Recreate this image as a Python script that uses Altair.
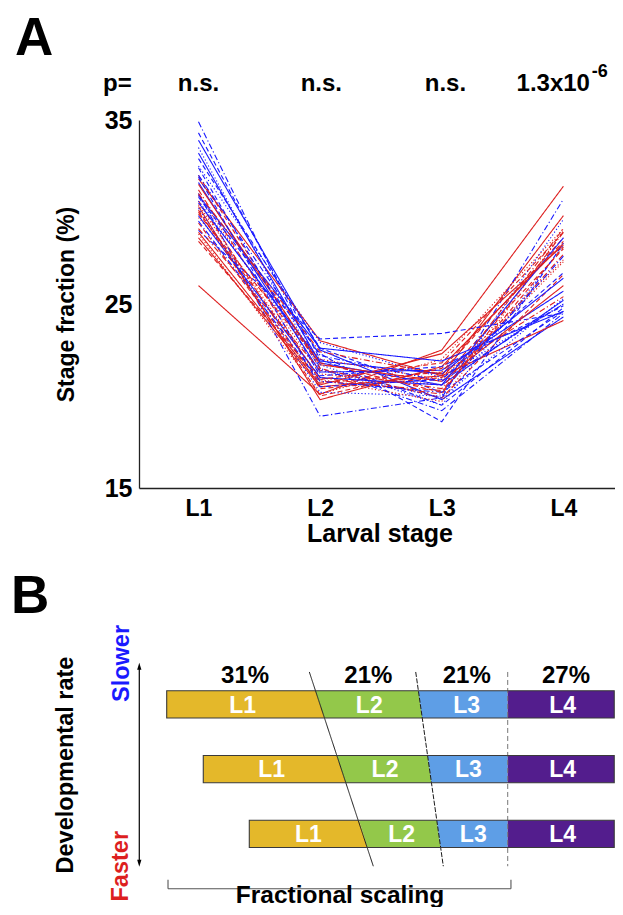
import altair as alt
import pandas as pd

FONT = "Liberation Sans"

# ---------------- Panel A : stage fractions ----------------
stage_labels = ["L1", "L2", "L3", "L4"]
stage_pos = [1, 2, 3, 4]
y_ticks = [15, 25, 35]

# slower strains (blue)
blue_L1 = [33.9, 34.9, 34.3, 33.2, 32.9, 32.5, 31.6, 31.0, 30.8, 30.5, 30.2, 29.0, 29.8, 32.0, 33.5, 31.9, 30.9, 29.5, 30.6, 32.4]
blue_L2 = [22.5, 21.5, 22.0, 21.8, 22.6, 22.9, 21.3, 18.9, 22.3, 21.9, 20.2, 23.1, 21.0, 22.2, 21.4, 20.5, 22.6, 20.8, 21.7, 21.1]
blue_L3 = [19.8, 19.2, 19.5, 20.6, 20.2, 21.0, 21.4, 19.9, 18.6, 21.2, 20.0, 23.4, 20.6, 20.8, 19.9, 20.9, 21.9, 20.2, 19.5, 21.6]
blue_L4 = [24.3, 24.5, 24.8, 25.2, 24.6, 25.0, 25.7, 30.7, 28.3, 26.4, 29.6, 24.5, 28.6, 25.0, 25.3, 26.7, 24.6, 27.6, 28.2, 24.9]
blue_style = ["solid", "dashdot", "dashed", "solid", "dashed", "dotted", "solid", "dashdot", "dashed", "solid",
              "dotted", "dashed", "solid", "dashdot", "dotted", "dashed", "solid", "dashdot", "dotted", "dashed"]

# faster strains (red)
red_L1 = [26.0, 28.6, 31.8, 32.0, 31.2, 30.9, 30.6, 30.3, 30.0, 29.7, 29.4, 31.5, 29.1, 28.8, 28.4, 28.9, 31.0, 30.4, 29.9, 30.1]
red_L2 = [20.1, 20.5, 23.0, 21.5, 20.8, 21.2, 20.4, 19.8, 21.0, 22.0, 20.7, 21.7, 21.4, 20.1, 20.9, 20.6, 22.4, 20.9, 21.8, 20.0]
red_L3 = [22.5, 21.1, 21.1, 19.9, 20.3, 20.6, 21.0, 21.6, 20.1, 20.9, 21.3, 20.8, 20.4, 22.0, 21.8, 22.3, 21.2, 19.7, 20.2, 21.5]
red_L4 = [31.4, 29.8, 24.1, 26.6, 27.7, 27.3, 28.0, 28.3, 28.9, 27.4, 28.6, 26.0, 29.1, 29.1, 28.9, 28.2, 25.4, 29.0, 28.1, 28.4]
red_style = ["solid", "solid", "solid", "dashed", "dashdot", "dotted", "dashed", "solid", "dashdot", "dotted",
             "dashed", "solid", "dashdot", "dotted", "dashed", "solid", "dashdot", "dotted", "dashed", "dashed"]

group_names = ["slower", "faster"]
group_colors = ["#1a1aff", "#dd1f1f"]
dash_names = ["solid", "dashed", "dotted", "dashdot"]
dash_arrays = [[1, 0], [5, 3], [1.2, 2.2], [6, 2.5, 1.2, 2.5]]

pv_text = ["p=", "n.s.", "n.s.", "n.s."]
pv_stage = [0.334, 1.0, 2.01, 3.03]
pv_big_text = ["1.3x10"]
pv_big_stage = [4.218]
pv_exp_text = ["-6"]
pv_exp_stage = [4.232]

rows = []
for i in range(len(blue_L1)):
    for grp, a, b, c, d, st in (("slower", blue_L1, blue_L2, blue_L3, blue_L4, blue_style),
                                 ("faster", red_L1, red_L2, red_L3, red_L4, red_style)):
        for s, v in zip(stage_pos, [a[i], b[i], c[i], d[i]]):
            rows.append({"id": f"{grp}{i:02d}", "group": grp, "style": st[i], "stage": s, "value": v})
dfA = pd.DataFrame(rows)

label_expr = "[" + ",".join(f"'{s}'" for s in stage_labels) + "][datum.value - 1]"

xA_scale = alt.Scale(domain=[0.511, 4.424], nice=False, zero=False)
yA_scale = alt.Scale(domain=[15, 35], nice=False, zero=False)

xA = alt.X("stage:Q", scale=xA_scale,
           axis=alt.Axis(values=stage_pos, labelExpr=label_expr, title="Larval stage",
                         ticks=False, grid=False, labelFlush=False,
                         labelFontSize=23, labelFontWeight="bold", labelPadding=9, labelColor="black",
                         titleFontSize=25, titleFontWeight="bold", titleColor="black",
                         titleY=53, titleX=240.5, titleBaseline="alphabetic",
                         domainColor="#222222", domainWidth=1.3))
yA = alt.Y("value:Q", scale=yA_scale,
           axis=alt.Axis(values=y_ticks, title="Stage fraction (%)", ticks=False, grid=False,
                         labelFontSize=25, labelFontWeight="bold", labelPadding=7, labelColor="black",
                         titleFontSize=23, titleFontWeight="bold", titleColor="black",
                         titleX=-73, titleBaseline="middle",
                         domainColor="#222222", domainWidth=1.3))

linesA = alt.Chart(dfA).mark_line(strokeWidth=1.1).encode(
    x=xA, y=yA,
    color=alt.Color("group:N", scale=alt.Scale(domain=group_names, range=group_colors), legend=None),
    strokeDash=alt.StrokeDash("style:N", scale=alt.Scale(domain=dash_names, range=dash_arrays), legend=None),
    detail="id:N",
)

pv_df = pd.DataFrame({"t": pv_text, "s": pv_stage})
pvA = alt.Chart(pv_df).mark_text(fontSize=24, fontWeight="bold", color="black", baseline="alphabetic",
                                 align="center").encode(
    x=alt.X("s:Q", scale=xA_scale), y=alt.value(-29), text="t:N")
pvbig = alt.Chart(pd.DataFrame({"t": pv_big_text, "s": pv_big_stage})).mark_text(
    fontSize=24, fontWeight="bold", color="black", baseline="alphabetic", align="right").encode(
    x=alt.X("s:Q", scale=xA_scale), y=alt.value(-29), text="t:N")
pvexp = alt.Chart(pd.DataFrame({"t": pv_exp_text, "s": pv_exp_stage})).mark_text(
    fontSize=18, fontWeight="bold", color="black", baseline="alphabetic", align="left").encode(
    x=alt.X("s:Q", scale=xA_scale), y=alt.value(-43), text="t:N")
letterA = alt.Chart(pd.DataFrame({"t": ["A"]})).mark_text(
    fontSize=53, fontWeight="bold", color="black", baseline="alphabetic", align="left").encode(
    x=alt.value(-124), y=alt.value(-65), text="t:N")

panelA = alt.layer(linesA, pvA, pvbig, pvexp, letterA)

# ---------------- Panel B : schematic of fractional scaling ----------------
seg_names = ["L1", "L2", "L3", "L4"]
seg_colors = ["#e4b82a", "#93c84a", "#5e9ee6", "#531d8d"]
bar_rows = [1, 2, 3]
row_start = [0.0, 8.10, 18.29]
b12_top = [32.95, 37.64, 42.60]
b12_bot = [34.94, 39.66, 44.42]
b23_top = [55.71, 57.75, 59.79]
b23_bot = [56.58, 58.61, 60.65]
b34 = [75.51, 75.51, 75.51]
row_end = [99.1, 99.1, 99.1]

lab_L1 = [16.83, 23.25, 31.36]
lab_L2 = [44.86, 48.34, 52.04]
lab_L3 = [66.43, 66.79, 67.89]
lab_L4 = [87.69, 87.69, 87.69]

pct_text = ["31%", "21%", "21%", "27%"]
pct_x = [17.35, 44.64, 66.43, 88.42]
pct_row = 0.666

guide_x1 = [31.58, 55.14, 75.51]
guide_x2 = [45.75, 61.25, 75.51]
guide_style = ["g_solid", "g_fine", "g_gray"]
guide_row1 = 0.50
guide_row2 = 3.50

arrow_x = -6.07
arrow_top = 0.361
arrow_bot = 3.507

bracket_x1 = [0.29, 0.29, 76.23]
bracket_x2 = [76.23, 0.29, 76.23]
bracket_y1 = [3.849, 3.71, 3.71]
bracket_y2 = [3.849, 3.849, 3.849]

HALF = 0.211  # bar half-thickness in row units

xB_scale = alt.Scale(domain=[0, 100], range=[27.7, 479.3], nice=False, zero=False)
yB_scale = alt.Scale(domain=[0, 4], range=[519.6, 778.6], nice=False, zero=False)

area_rows = []
for i, r in enumerate(bar_rows):
    tops = [row_start[i], b12_top[i], b23_top[i], b34[i], row_end[i]]
    bots = [row_start[i], b12_bot[i], b23_bot[i], b34[i], row_end[i]]
    for k, s in enumerate(seg_names):
        sid = f"{r}-{s}"
        area_rows.append({"sid": sid, "seg": s, "yy": r - HALF, "x": tops[k], "x2": tops[k + 1]})
        area_rows.append({"sid": sid, "seg": s, "yy": r + HALF, "x": bots[k], "x2": bots[k + 1]})
dfArea = pd.DataFrame(area_rows)

areasB = alt.Chart(dfArea).mark_area(orient="horizontal", opacity=1).encode(
    y=alt.Y("yy:Q", scale=yB_scale, axis=None),
    x=alt.X("x:Q", scale=xB_scale, axis=None),
    x2="x2:Q",
    color=alt.Color("seg:N", scale=alt.Scale(domain=seg_names, range=seg_colors), legend=None),
    detail="sid:N",
)

dfOut = pd.DataFrame({"x": row_start, "x2": row_end,
                      "y": [r - HALF for r in bar_rows], "y2": [r + HALF for r in bar_rows]})
outlineB = alt.Chart(dfOut).mark_rect(filled=False, color="#3a3a3a", strokeWidth=1.1).encode(
    x=alt.X("x:Q", scale=xB_scale, axis=None), x2="x2:Q",
    y=alt.Y("y:Q", scale=yB_scale, axis=None), y2="y2:Q")

lab_rows = []
for i, r in enumerate(bar_rows):
    for s, xs in zip(seg_names, [lab_L1, lab_L2, lab_L3, lab_L4]):
        lab_rows.append({"t": s, "x": xs[i], "y": r})
labelsB = alt.Chart(pd.DataFrame(lab_rows)).mark_text(
    fontSize=23, fontWeight="bold", color="white", baseline="alphabetic", align="center", dy=8.3).encode(
    x=alt.X("x:Q", scale=xB_scale, axis=None), y=alt.Y("y:Q", scale=yB_scale, axis=None), text="t:N")

pctB = alt.Chart(pd.DataFrame({"t": pct_text, "x": pct_x, "y": [pct_row] * 4})).mark_text(
    fontSize=24, fontWeight="bold", color="black", baseline="alphabetic", align="center").encode(
    x=alt.X("x:Q", scale=xB_scale, axis=None), y=alt.Y("y:Q", scale=yB_scale, axis=None), text="t:N")

dfGuide = pd.DataFrame({"x": guide_x1, "x2": guide_x2, "y": [guide_row1] * 3, "y2": [guide_row2] * 3,
                        "g": guide_style})
guidesB = alt.Chart(dfGuide).mark_rule(strokeWidth=1).encode(
    x=alt.X("x:Q", scale=xB_scale, axis=None), x2="x2:Q",
    y=alt.Y("y:Q", scale=yB_scale, axis=None), y2="y2:Q",
    stroke=alt.Stroke("g:N", scale=alt.Scale(domain=guide_style, range=["#1a1a1a", "#1a1a1a", "#777777"]),
                      legend=None),
    strokeDash=alt.StrokeDash("g:N", scale=alt.Scale(domain=guide_style, range=[[1, 0], [5, 1.5], [5, 3]]),
                              legend=None),
)

dfArrow = pd.DataFrame({"x": [arrow_x], "y": [arrow_top + 0.06], "y2": [arrow_bot - 0.06]})
arrowB = alt.Chart(dfArrow).mark_rule(color="black", strokeWidth=1.2).encode(
    x=alt.X("x:Q", scale=xB_scale, axis=None),
    y=alt.Y("y:Q", scale=yB_scale, axis=None), y2="y2:Q")
headUp = alt.Chart(pd.DataFrame({"x": [arrow_x], "y": [arrow_top + 0.07]})).mark_point(
    shape="M0,-1.2L0.55,0.6L-0.55,0.6Z", filled=True, color="black", size=60, opacity=1).encode(
    x=alt.X("x:Q", scale=xB_scale, axis=None), y=alt.Y("y:Q", scale=yB_scale, axis=None))
headDown = alt.Chart(pd.DataFrame({"x": [arrow_x], "y": [arrow_bot - 0.07]})).mark_point(
    shape="M0,1.2L0.55,-0.6L-0.55,-0.6Z", filled=True, color="black", size=60, opacity=1).encode(
    x=alt.X("x:Q", scale=xB_scale, axis=None), y=alt.Y("y:Q", scale=yB_scale, axis=None))

dfBracket = pd.DataFrame({"x": bracket_x1, "x2": bracket_x2, "y": bracket_y1, "y2": bracket_y2})
bracketB = alt.Chart(dfBracket).mark_rule(color="#555555", strokeWidth=1.1).encode(
    x=alt.X("x:Q", scale=xB_scale, axis=None), x2="x2:Q",
    y=alt.Y("y:Q", scale=yB_scale, axis=None), y2="y2:Q")

side_text = ["Developmental rate", "Slower", "Faster"]
side_x = [-22.30, -9.90, -10.12]
side_y = [1.937, 0.369, 3.50]
side_col = ["black", "slow", "fast"]
sideB = alt.Chart(pd.DataFrame({"t": side_text, "x": side_x, "y": side_y, "c": side_col})).mark_text(
    fontSize=23.5, fontWeight="bold", angle=270, baseline="middle", align="center").encode(
    x=alt.X("x:Q", scale=xB_scale, axis=None), y=alt.Y("y:Q", scale=yB_scale, axis=None), text="t:N",
    fill=alt.Fill("c:N", scale=alt.Scale(domain=["black", "slow", "fast"],
                                         range=["#000000", "#1a1aff", "#dd1f1f"]), legend=None))

fracB = alt.Chart(pd.DataFrame({"t": ["Fractional scaling"], "x": [38.37], "y": [4.068]})).mark_text(
    fontSize=24.5, fontWeight="bold", color="black", baseline="alphabetic", align="center").encode(
    x=alt.X("x:Q", scale=xB_scale, axis=None), y=alt.Y("y:Q", scale=yB_scale, axis=None), text="t:N")

letterB = alt.Chart(pd.DataFrame({"t": ["B"]})).mark_text(
    fontSize=53, fontWeight="bold", color="black", baseline="alphabetic", align="left").encode(
    x=alt.value(-128), y=alt.value(493), text="t:N")

panelB = alt.layer(areasB, guidesB, outlineB, labelsB, pctB, arrowB, headUp, headDown, bracketB,
                   sideB, fracB, letterB)

chart = alt.layer(panelA, panelB).resolve_scale(
    x="independent", y="independent", color="independent", strokeDash="independent",
    stroke="independent", fill="independent"
).properties(
    width=476, height=368,
    autosize=alt.AutoSizeParams(type="none"),
    padding={"left": 131, "top": 112, "right": 0, "bottom": 419},
).configure(font=FONT).configure_view(stroke=None)

chart.save("out.html", embed_options={"renderer": "svg", "actions": False})
